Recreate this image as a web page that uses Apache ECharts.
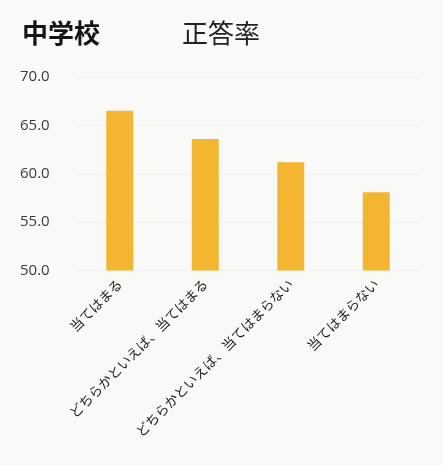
<!DOCTYPE html>
<html>
<head>
<meta charset="utf-8">
<script src="https://cdn.jsdelivr.net/npm/echarts@6/dist/echarts.min.js"></script>
<style>
  html, body { margin: 0; padding: 0; background: #f9f9f7; }
  #chart { width: 443px; height: 465px; }
</style>
</head>
<body>
<div id="chart"></div>
<script>
// 回答カテゴリ
const categories = [
  '当てはまる',
  'どちらかといえば、当てはまる',
  'どちらかといえば、当てはまらない',
  '当てはまらない'
];
// 正答率 (%)
const rates = [66.5, 63.6, 61.2, 58.1];
// 縦軸の範囲
const yMin = 50;
const yMax = 70;
const yStep = 5;

const chart = echarts.init(document.getElementById('chart'));
chart.setOption({
  backgroundColor: '#f9f9f7',
  textStyle: { fontFamily: '"Noto Sans CJK JP", "Open Sans", sans-serif' },
  graphic: [
    {
      type: 'text', left: 22, top: 20,
      style: { text: '中学校', font: 'bold 26px "Noto Sans CJK JP"', fill: '#151515' }
    },
    {
      type: 'text', left: 182, top: 20,
      style: { text: '正答率', font: '26px "Noto Sans CJK JP"', fill: '#222' }
    }
  ],
  grid: { left: 77, right: 24, top: 77, bottom: 194.5, containLabel: false },
  xAxis: {
    type: 'category',
    data: categories,
    axisLine: { show: false },
    axisTick: { show: false },
    axisLabel: {
      rotate: 45,
      interval: 0,
      margin: 11,
      fontSize: 13.5,
      color: '#1e1e1e',
      fontFamily: '"Noto Sans CJK JP"'
    }
  },
  yAxis: {
    type: 'value',
    min: yMin,
    max: yMax,
    interval: yStep,
    axisLine: { show: false },
    axisTick: { show: false },
    splitLine: { show: true, lineStyle: { color: '#f0f0ee', width: 1 } },
    axisLabel: {
      align: 'left',
      margin: 57,
      fontSize: 15,
      color: '#3a3a3a',
      fontFamily: '"Open Sans", sans-serif',
      formatter: v => v.toFixed(1)
    }
  },
  series: [{
    type: 'bar',
    data: rates,
    barWidth: '31.5%',
    itemStyle: { color: '#f4b630' },
    animation: false
  }]
});
</script>
</body>
</html>
